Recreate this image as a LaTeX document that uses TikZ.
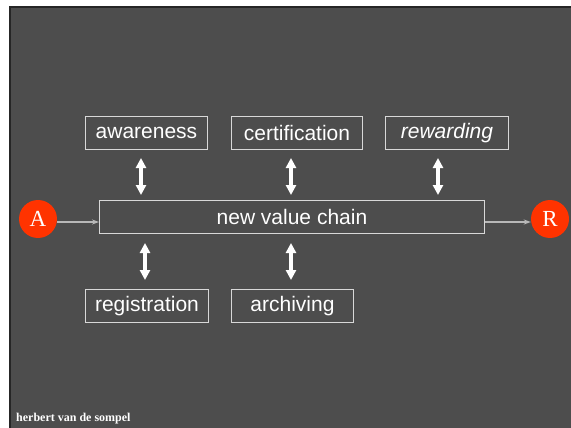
\documentclass[tikz,border=0pt]{standalone}
\usepackage{fontspec}
\setmainfont{Liberation Serif}
\setsansfont{Liberation Sans}
\usetikzlibrary{arrows.meta}
\definecolor{slidebg}{HTML}{4D4D4D}
\definecolor{slideedge}{HTML}{262626}
\definecolor{boxline}{HTML}{D8D8D8}
\definecolor{dotred}{HTML}{FF3300}
\definecolor{flowline}{HTML}{B8B8B8}
\tikzset{
  stage/.style={draw=boxline, line width=0.9pt, text=white, font=\sffamily\fontsize{21}{24}\selectfont, inner sep=0pt, anchor=north west},
  dot/.style={circle, fill=dotred, draw=none, minimum size=38pt, inner sep=0pt, text=white, font=\fontsize{23}{26}\selectfont},
  flow/.style={draw=flowline, line width=1.2pt, -{Stealth[length=7pt,width=5pt]}},
  link/.style={draw=white, line width=3.2pt, {Triangle[length=10pt,width=10pt]}-{Triangle[length=10pt,width=10pt]}},
}
\begin{document}
\begin{tikzpicture}[x=1pt,y=-1pt]
\useasboundingbox (0,0) rectangle (571,428);
\fill[white] (0,0) rectangle (571,428);
\fill[slidebg] (10,7) rectangle (571,428);
\draw[slideedge, line width=1.5pt] (10,428) -- (10,7) -- (571,7);
% boxes
\node[stage, minimum width=122pt, minimum height=33pt] (aw) at (85,116) {awareness};
\node[stage, minimum width=131pt, minimum height=33pt] (ce) at (231,116) {certification};
\node[stage, minimum width=123pt, minimum height=33pt] (rw) at (385,116) {\itshape rewarding};
\node[stage, minimum width=385pt, minimum height=33pt] (ch) at (99,200) {new value chain};
\node[stage, minimum width=123pt, minimum height=33pt] (rg) at (85,289) {registration};
\node[stage, minimum width=122pt, minimum height=33pt] (ar) at (231,289) {archiving};
% endpoints
\node[dot] (A) at (38,219) {A};
\node[dot] (R) at (550,219) {R};
% flow arrows
\draw[flow] (A.east |- 0,222) -- (ch.west |- 0,222);
\draw[flow] (ch.east |- 0,222) -- (R.west |- 0,222);
% double arrows
\coordinate (aw1) at (141,158); \coordinate (aw2) at (141,195);
\coordinate (ce1) at (291,158); \coordinate (ce2) at (291,195);
\coordinate (rw1) at (438,158); \coordinate (rw2) at (438,195);
\coordinate (rg1) at (145,243); \coordinate (rg2) at (145,280);
\coordinate (ar1) at (291,243); \coordinate (ar2) at (291,280);
\draw[link] (aw1) -- (aw2);
\draw[link] (ce1) -- (ce2);
\draw[link] (rw1) -- (rw2);
\draw[link] (rg1) -- (rg2);
\draw[link] (ar1) -- (ar2);
% footer
\node[anchor=base west, text=white, font=\bfseries\fontsize{12}{14}\selectfont, inner sep=0pt] (ft) at (16,421) {herbert van de sompel};
\end{tikzpicture}
\end{document}
